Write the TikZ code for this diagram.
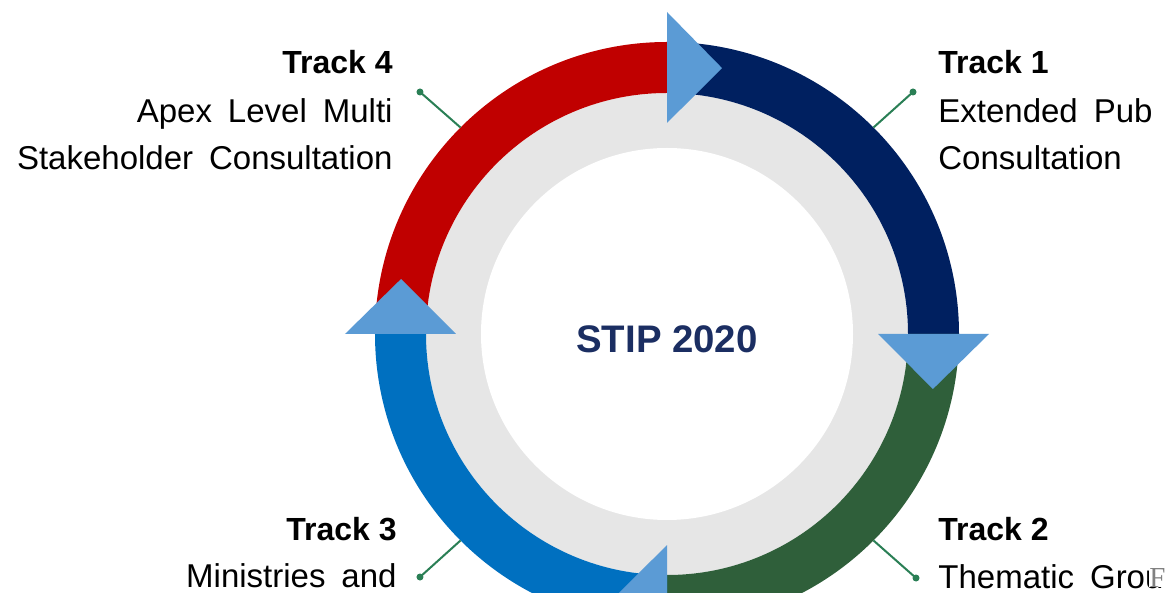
\documentclass[tikz,border=0pt]{standalone}
\usepackage{fontspec}
\setmainfont{Liberation Sans}
\newfontfamily\capfont{Liberation Serif}
\usepackage{tikz}
\definecolor{trackone}{HTML}{002060}
\definecolor{tracktwo}{HTML}{2F5F3A}
\definecolor{trackthree}{HTML}{0070C0}
\definecolor{trackfour}{HTML}{C00000}
\definecolor{pointer}{HTML}{5B9BD5}
\definecolor{leaderc}{HTML}{2A7F55}
\definecolor{ringgray}{HTML}{E6E6E6}
\definecolor{stipnavy}{HTML}{1B2E62}
\newcommand{\trackbody}{\fontsize{16.5}{24}\selectfont\spaceskip=8pt\relax}

\begin{document}
\begin{tikzpicture}[x=0.5pt, y=0.5pt,
	title/.style={font=\fontsize{16}{24}\selectfont\bfseries, inner sep=0pt},
	body/.style={font=\trackbody, inner sep=0pt},
	dot/.style={circle, fill=leaderc, inner sep=0pt, minimum size=3.5pt},
	leader/.style={draw=leaderc, line width=1pt}]
				\fill[white] (-667, -259) rectangle (504, 334);
				\useasboundingbox (-667, -259) rectangle (504, 334);
				\clip (-667, -259) rectangle (504, 334);
				\fill[ringgray] (0, 0) circle (241);
				\fill[white] (0, 0) circle (186);
				\foreach \a/\col in {90/trackone, 0/tracktwo, 270/trackthree, 180/trackfour}
					\fill[\col] (\a:292) arc[start angle=\a, end angle=\a-90, radius=292] -- (\a-90:241) arc[start angle=\a-90, end angle=\a, radius=241] -- cycle;
				\foreach \a in {90, 0, 270, 180}
					\fill[pointer] (\a:211) -- (\a:322) -- (\a-11.68:271.6) -- cycle;
				\node[anchor=base, text=stipnavy, inner sep=0pt, font=\fontsize{19.2}{24}\selectfont\bfseries] (stip) at (0, -19) {STIP 2020};
				\coordinate (r1) at (45:292);
				\coordinate (r2) at (-45:292);
				\coordinate (r3) at (-135:292);
				\coordinate (r4) at (135:292);
				\node[dot] (d1) at (246, 242) {};
				\node[dot] (d2) at (249, -244) {};
				\node[dot] (d3) at (-247, -243) {};
				\node[dot] (d4) at (-247, 242) {};
				\draw[leader] (d1.center) -- (r1);
				\draw[leader] (d2.center) -- (r2);
				\draw[leader] (d3.center) -- (r3);
				\draw[leader] (d4.center) -- (r4);
				\node[title, anchor=base west] (t1) at (271, 260) {Track 1};
				\node[body, anchor=base west] (t1a) at (271, 211) {Extended Pub};
				\node[body, anchor=base west] (t1b) at (271, 164) {Consultation};
				\node[title, anchor=base west] (t2) at (271, -206) {Track 2};
				\node[body, anchor=base west] (t2a) at (271, -254) {Thematic Grou};
				\node[title, anchor=base east] (t3) at (-270, -206) {Track 3};
				\node[body, anchor=base east] (t3a) at (-270, -253) {Ministries and};
				\node[title, anchor=base east] (t4) at (-274, 260) {Track 4};
				\node[body, anchor=base east] (t4a) at (-274, 211) {Apex Level Multi};
				\node[body, anchor=base east] (t4b) at (-274, 164) {Stakeholder Consultation};
				\node[anchor=base west, fill=white, inner sep=0pt, text=gray, font=\capfont\fontsize{14.5}{16}\selectfont] (fig) at (482, -253) {F};
			\end{tikzpicture}
\end{document}
